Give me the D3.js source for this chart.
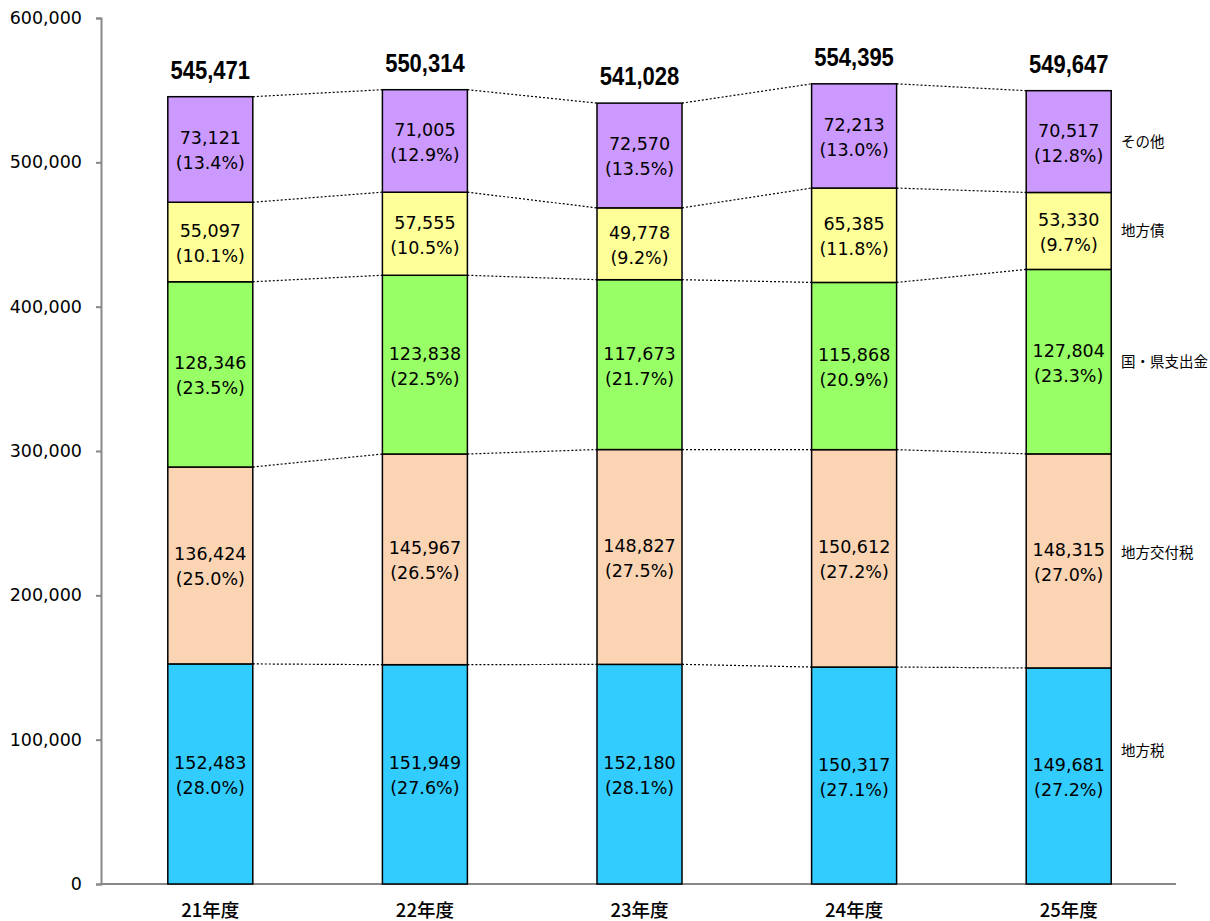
<!DOCTYPE html>
<html><head><meta charset="utf-8">
<script src="https://cdn.jsdelivr.net/npm/d3@7"></script>
<style>
body{margin:0;background:#fff;}
svg{display:block;}
</style></head>
<body><svg id="chart" width="1210" height="921"></svg>
<script>
const years = ["21年度","22年度","23年度","24年度","25年度"];
const seriesNames = ["地方税","地方交付税","国・県支出金","地方債","その他"];
const chihouzei   = [152483,151949,152180,150317,149681];
const koufuzei    = [136424,145967,148827,150612,148315];
const shishutsu   = [128346,123838,117673,115868,127804];
const chihousai   = [55097,57555,49778,65385,53330];
const sonota      = [73121,71005,72570,72213,70517];
const pctChihouzei = ["28.0","27.6","28.1","27.1","27.2"];
const pctKoufuzei  = ["25.0","26.5","27.5","27.2","27.0"];
const pctShishutsu = ["23.5","22.5","21.7","20.9","23.3"];
const pctChihousai = ["10.1","10.5","9.2","11.8","9.7"];
const pctSonota    = ["13.4","12.9","13.5","13.0","12.8"];
const totals = [545471,550314,541028,554395,549647];
const yTicks = [0,100000,200000,300000,400000,500000,600000];
const colors = ["#33CCFF","#FBD4B4","#99FF66","#FFFF99","#CC99FF"];

const values = [chihouzei,koufuzei,shishutsu,chihousai,sonota];
const pcts = [pctChihouzei,pctKoufuzei,pctShishutsu,pctChihousai,pctSonota];

const svg = d3.select("#chart");
const x = d3.scaleBand().domain(years).range([103,1176]).padding(0);
const barW = 85;
const y = d3.scaleLinear().domain([0,600000]).range([884,18]);
const fmt = d3.format(",");

const rows = years.map((yr,i)=>{const o={year:yr}; seriesNames.forEach((s,k)=>o[s]=values[k][i]); return o;});
const stack = d3.stack().keys(seriesNames)(rows);

const yAxis = d3.axisLeft(y).tickValues(yTicks).tickFormat(fmt).tickSize(5).tickPadding(14);
const ag = svg.append("g").attr("transform","translate(101,0)").call(yAxis);
ag.select(".domain").attr("stroke","#888").attr("stroke-width",2);
ag.selectAll(".tick line").attr("stroke","#888").attr("stroke-width",2);
ag.selectAll(".tick text").attr("font-family","'DejaVu Sans',Verdana,sans-serif").attr("font-size",17.5).attr("fill","#000");
svg.append("line").attr("x1",101).attr("x2",1176).attr("y1",y(0)).attr("y2",y(0)).attr("stroke","#888").attr("stroke-width",2);

const cx = d => x(d)+x.bandwidth()/2;

stack.forEach(layer=>{
  for(let i=0;i<years.length-1;i++){
    svg.append("line")
      .attr("x1",cx(years[i])+barW/2).attr("y1",y(layer[i][1]))
      .attr("x2",cx(years[i+1])-barW/2).attr("y2",y(layer[i+1][1]))
      .attr("stroke","#000").attr("stroke-width",1.2).attr("stroke-dasharray","2,2");
  }
});

stack.forEach((layer,k)=>{
  svg.append("g").selectAll("rect").data(layer).join("rect")
    .attr("x",(d,i)=>cx(years[i])-barW/2)
    .attr("y",d=>y(d[1]))
    .attr("width",barW)
    .attr("height",d=>y(d[0])-y(d[1]))
    .attr("fill",colors[k]).attr("stroke","#000").attr("stroke-width",1.5);
});

stack.forEach((layer,k)=>{
  const g = svg.append("g").attr("font-family","'DejaVu Sans',Verdana,sans-serif").attr("font-size",17.5).attr("text-anchor","middle").attr("fill","#000");
  layer.forEach((d,i)=>{
    const m = y((d[0]+d[1])/2);
    g.append("text").attr("x",cx(years[i])).attr("y",m-5).text(fmt(values[k][i]));
    g.append("text").attr("x",cx(years[i])).attr("y",m+20).text("("+pcts[k][i]+"%)");
  });
});

svg.append("g").selectAll("text").data(totals).join("text")
  .attr("x",(d,i)=>cx(years[i]))
  .attr("y",d=>y(d)-18)
  .attr("text-anchor","middle")
  .attr("font-family","'Liberation Sans',Arial,sans-serif")
  .attr("font-weight","bold").attr("font-size",25)
  .attr("transform",(d,i)=>`translate(${cx(years[i])},0) scale(0.88,1) translate(${-cx(years[i])},0)`)
  .text(d=>fmt(d));

svg.append("g").selectAll("text").data(years).join("text")
  .attr("x",d=>cx(d)).attr("y",917)
  .attr("text-anchor","middle")
  .attr("font-family","'Noto Sans CJK JP','DejaVu Sans',sans-serif")
  .attr("font-size",18.5).attr("font-weight",500).attr("fill","#000")
  .text(d=>d);

const last = years.length-1;
svg.append("g").selectAll("text").data(stack).join("text")
  .attr("x",1121)
  .attr("y",(layer,k)=>y((layer[last][0]+layer[last][1])/2)+5 - (k===0?25:0) - (k===1?8:0))
  .attr("font-family","'Noto Sans CJK JP',sans-serif")
  .attr("font-size",14.5).attr("fill","#000")
  .text(layer=>layer.key);
</script></body></html>
